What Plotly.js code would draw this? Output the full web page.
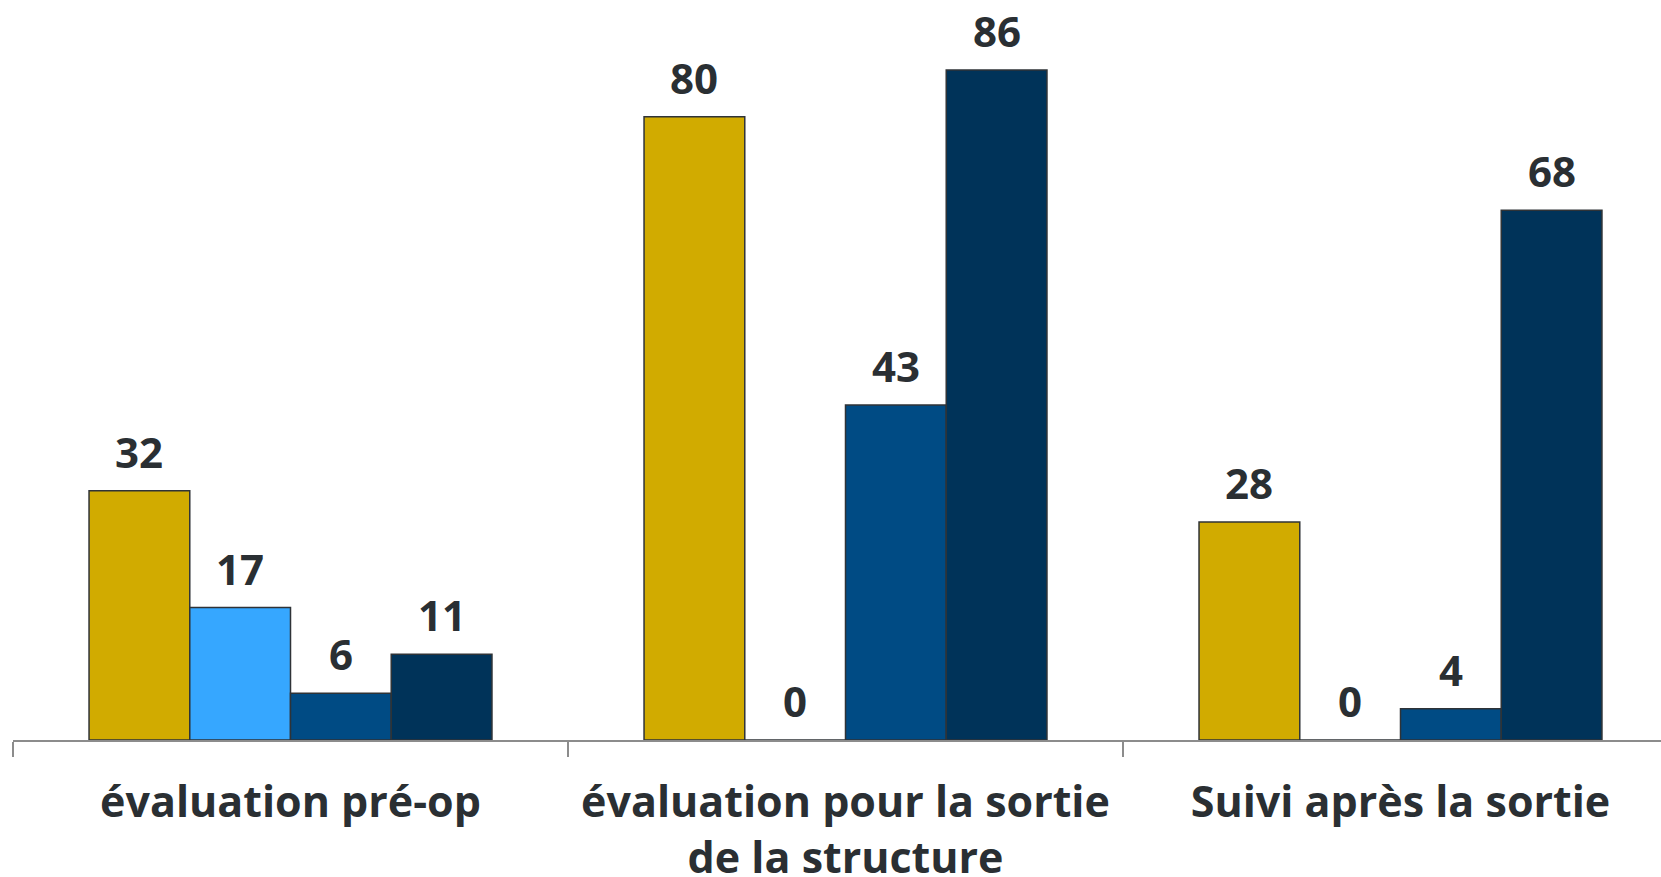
<!DOCTYPE html>
<html>
<head>
<meta charset="utf-8">
<script src="https://cdn.plot.ly/plotly-3.0.1.min.js"></script>
<style>
html,body{margin:0;padding:0;overflow:hidden;background:#fff;}
#chart{width:1678px;height:877px;}
</style>
</head>
<body>
<div id="chart"></div>
<script>
const categories = ["évaluation pré-op", "évaluation pour la sortie<br>de la structure", "Suivi après la sortie"];
const seriesNames = ["Série 1", "Série 2", "Série 3", "Série 4"];
const series1 = [32, 80, 28];
const series2 = [17, 0, 0];
const series3 = [6, 43, 4];
const series4 = [11, 86, 68];
const colors = ["#D1AB00", "#36A7FF", "#004B84", "#003359"];

const allSeries = [series1, series2, series3, series4];
const bargap = 0.274;
const nSeries = allSeries.length;
const barW = (1 - bargap) / nSeries;

const traces = allSeries.map((vals, i) => ({
  type: "bar",
  name: seriesNames[i],
  x: categories,
  y: vals,
  marker: {color: colors[i], line: {color: "#2F3337", width: 1.5}},
  hoverinfo: "x+y"
}));

// value labels placed on the data coordinates of each bar (category index + group offset)
const annotations = [];
allSeries.forEach((vals, i) => {
  const off = -((1 - bargap) / 2) + barW * (i + 0.5);
  vals.forEach((v, j) => {
    annotations.push({
      xref: "x", yref: "y",
      x: j + off, y: v,
      text: String(v),
      showarrow: false,
      xanchor: "center", yanchor: "bottom",
      yshift: 9,
      font: {family: "Open Sans", size: 42, color: "#2A2F33", weight: 700}
    });
  });
});

const layout = {
  width: 1678,
  height: 877,
  margin: {l: 13, r: 0, t: 0, b: 137},
  paper_bgcolor: "#ffffff",
  plot_bgcolor: "#ffffff",
  showlegend: false,
  barmode: "group",
  bargap: bargap,
  bargroupgap: 0,
  font: {family: "Open Sans", color: "#2A2F33"},
  annotations: annotations,
  xaxis: {
    type: "category",
    showline: true,
    linecolor: "#8C8C8C",
    linewidth: 2,
    ticks: "outside",
    tickson: "boundaries",
    ticklen: 15,
    tickwidth: 1.5,
    tickcolor: "#8C8C8C",
    ticklabelstandoff: 23,
    tickfont: {family: "Open Sans", size: 43, color: "#2A2F33", weight: 700},
    showgrid: false,
    zeroline: false
  },
  yaxis: {
    range: [0, 95],
    visible: false,
    showgrid: false,
    zeroline: false
  }
};

Plotly.newPlot("chart", traces, layout, {displayModeBar: false, staticPlot: true});
</script>
</body>
</html>
